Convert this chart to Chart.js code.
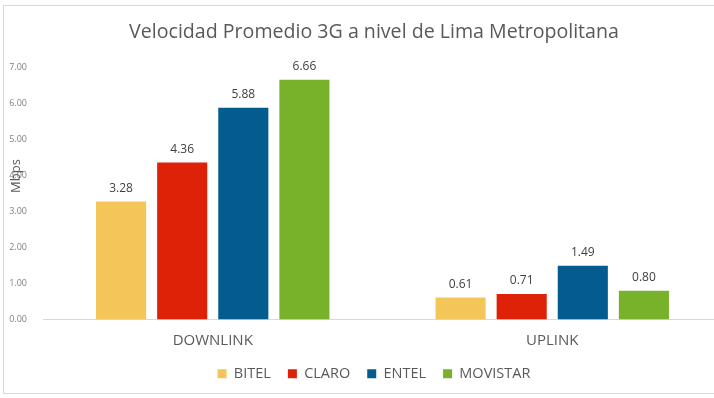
<!DOCTYPE html>
<html>
<head>
<meta charset="utf-8">
<script src="https://cdn.jsdelivr.net/npm/chart.js@4"></script>
<style>
	html, body { margin: 0; padding: 0; background: #fff; overflow: hidden; width: 714px; height: 398px; }
	.frame { position: absolute; left: 3px; top: 5px; width: 743px; height: 389px; border: 1px solid #d9d9d9; box-sizing: border-box; }
	#chart { display: block; }
</style>
</head>
<body>
<div class="frame"><canvas id="chart" width="741" height="387"></canvas></div>
<script>
const categories = ['DOWNLINK', 'UPLINK'];
const bitel = [3.28, 0.61];
const claro = [4.36, 0.71];
const entel = [5.88, 1.49];
const movistar = [6.66, 0.80];
const yTicks = [0, 1, 2, 3, 4, 5, 6, 7];

const gris = '#595959';
const fuente = "'Open Sans', sans-serif";

// etiquetas de valor encima de cada barra + titulo del eje Y
const etiquetas = {
	id: 'etiquetas',
	afterLayout(chart) {
		// centrar titulo y leyenda sobre todo el marco, no solo sobre el area con padding
		[chart.titleBlock, chart.legend].forEach(b => {
			b.left += 11;
			b.right += 11;
		});
	},
	afterDatasetsDraw(chart) {
		const ctx = chart.ctx;
		ctx.save();
		ctx.font = '12px ' + fuente;
		ctx.fillStyle = '#404040';
		ctx.textAlign = 'center';
		ctx.textBaseline = 'middle';
		chart.data.datasets.forEach((ds, i) => {
			chart.getDatasetMeta(i).data.forEach((bar, j) => {
				ctx.fillText(ds.data[j].toFixed(2), bar.x, bar.y - 13);
			});
		});
		ctx.translate(12, 170);
		ctx.rotate(-Math.PI / 2);
		ctx.font = '13px ' + fuente;
		ctx.fillStyle = gris;
		ctx.fillText('Mbps', 0, 0);
		ctx.restore();
	}
};

const ctxChart = document.getElementById('chart').getContext('2d');

let chart = new Chart(ctxChart, {
	type: 'bar',
	data: {
		labels: categories,
		datasets: [
			{ label: 'BITEL', data: bitel, backgroundColor: '#F4C65A' },
			{ label: 'CLARO', data: claro, backgroundColor: '#DD2208' },
			{ label: 'ENTEL', data: entel, backgroundColor: '#035B8E' },
			{ label: 'MOVISTAR', data: movistar, backgroundColor: '#77B22A' },
		]
	},
	options: {
		responsive: false,
		animation: false,
		categoryPercentage: 0.72,
		barPercentage: 0.82,
		layout: {
			padding: { top: 0, left: 0, right: 23, bottom: 2 }
		},
		plugins: {
			title: {
				display: true,
				text: 'Velocidad Promedio 3G a nivel de Lima Metropolitana',
				color: gris,
				font: { family: fuente, size: 19.6, weight: 'normal' },
				padding: { top: 15, bottom: 23 }
			},
			legend: {
				position: 'bottom',
				labels: {
					color: gris,
					font: { family: fuente, size: 14.5 },
					boxWidth: 9,
					boxHeight: 9,
					padding: 17
				}
			},
			tooltip: { enabled: false }
		},
		scales: {
			x: {
				grid: { display: false },
				border: { color: '#d9d9d9' },
				ticks: { color: gris, font: { family: fuente, size: 15 }, padding: 4 },
				afterFit(s) { s.height = 30 }
			},
			y: {
				min: 0,
				max: 7,
				grid: { display: false },
				border: { display: false },
				afterBuildTicks(s) { s.ticks = yTicks.map(v => ({ value: v })) },
				ticks: {
					color: '#7f7f7f',
					font: { family: fuente, size: 9 },
					padding: 8,
					callback: v => v.toFixed(2)
				},
				afterFit(s) { s.width = 39 }
			}
		}
	},
	plugins: [etiquetas]
});
</script>
</body>
</html>
